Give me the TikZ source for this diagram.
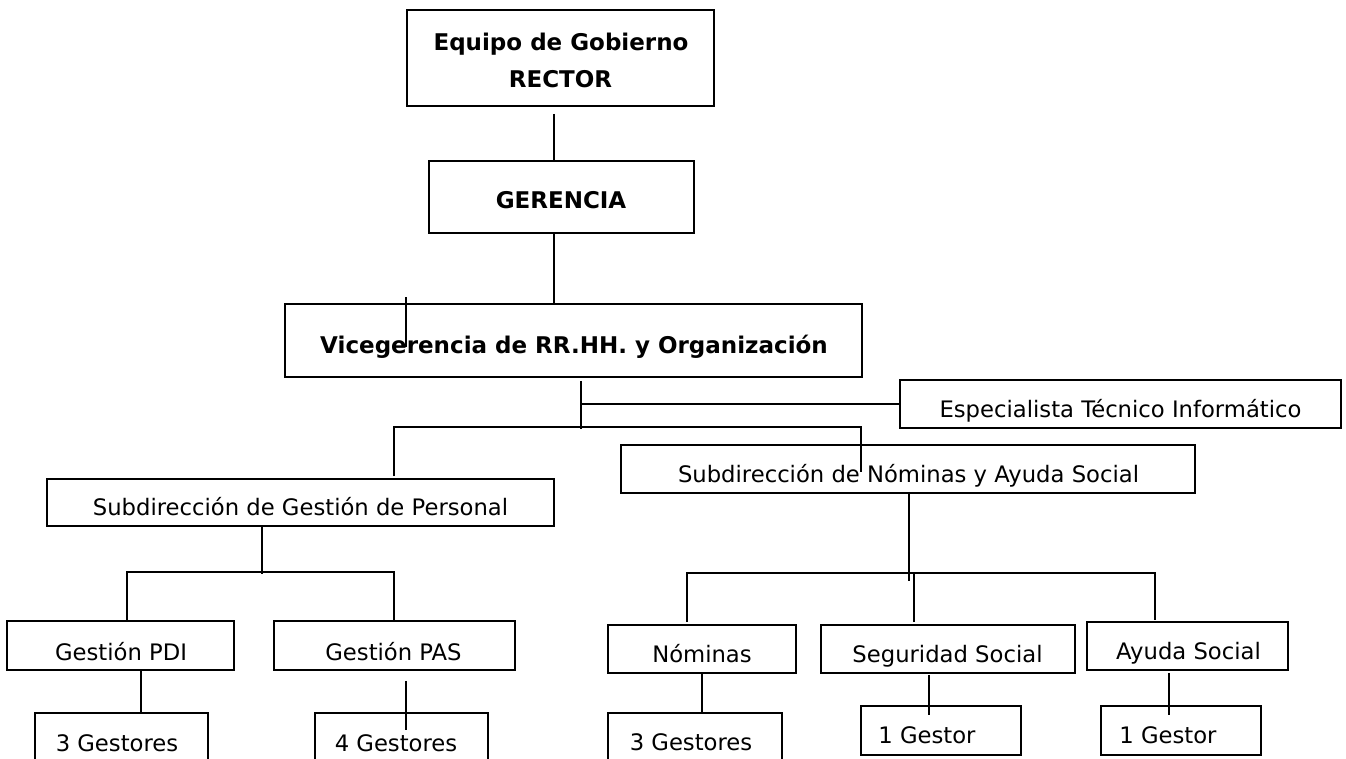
\documentclass[tikz,border=0pt]{standalone}
\usepackage{fontspec}
\setmainfont{DejaVu Sans}
\usetikzlibrary{calc}
\tikzset{
  box/.style={draw=black, line width=1.9pt, inner sep=0pt},
  wire/.style={draw=black, line width=1.9pt},
  lbl/.style={anchor=base, inner sep=0pt, font=\fontsize{22.7}{26}\selectfont},
  blbl/.style={anchor=base, inner sep=0pt, font=\fontsize{23}{27}\selectfont\bfseries},
}
\newcommand\mkbox[5]{\node[box, minimum width={#4-#2}, minimum height={#5-#3}] (#1) at ({(#2+#4)/2},{(#3+#5)/2}) {};}
\begin{document}
\begin{tikzpicture}[x=1pt,y=-1pt]
\useasboundingbox (0,0) rectangle (1346,758);
\clip (0,0) rectangle (1346,758);
\fill[white] (0,0) rectangle (1346,758);

% boxes
\mkbox{rector}{407}{10}{714}{106}
\mkbox{gerencia}{429}{161}{694}{233}
\mkbox{vice}{285}{304}{862}{377}
\mkbox{espec}{900}{380}{1341}{428}
\mkbox{subgest}{47}{479}{554}{526}
\mkbox{subnom}{621}{445}{1195}{493}
\mkbox{pdi}{7}{621}{234}{670}
\mkbox{pas}{274}{621}{515}{670}
\mkbox{gpdi}{35}{713}{208}{780}
\mkbox{gpas}{315}{713}{488}{780}
\mkbox{nom}{608}{625}{796}{673}
\mkbox{seg}{821}{625}{1075}{673}
\mkbox{ayu}{1087}{622}{1288}{670}
\mkbox{gnom}{608}{713}{782}{780}
\mkbox{gseg}{861}{706}{1021}{755}
\mkbox{gayu}{1101}{706}{1261}{755}

% texts
\node[blbl] (rector-t1) at (561,50) {Equipo de Gobierno};
\node[blbl] (rector-t2) at (560.5,87) {RECTOR};
\node[blbl] (gerencia-t) at (561,208) {GERENCIA};
\node[blbl] (vice-t) at (574,353) {Vicegerencia de RR.HH. y Organización};
\node[lbl] (espec-t) at (1120.5,417) {Especialista Técnico Informático};
\node[lbl] (subgest-t) at (300.5,515) {Subdirección de Gestión de Personal};
\node[lbl] (subnom-t) at (908.5,482) {Subdirección de Nóminas y Ayuda Social};
\node[lbl] (pdi-t) at (121,660) {Gestión PDI};
\node[lbl] (pas-t) at (393.5,660) {Gestión PAS};
\node[lbl] (gpdi-t) at (117,751) {3 Gestores};
\node[lbl] (gpas-t) at (396,751) {4 Gestores};
\node[lbl] (nom-t) at (702,662) {Nóminas};
\node[lbl] (seg-t) at (947.5,662) {Seguridad Social};
\node[lbl] (ayu-t) at (1188.5,659) {Ayuda Social};
\node[lbl] (gnom-t) at (691,750) {3 Gestores};
\node[lbl] (gseg-t) at (927,743) {1 Gestor};
\node[lbl] (gayu-t) at (1168,743) {1 Gestor};

% connectors
\draw[wire] ([shift={(-6.5,7)}]rector.south) -- ([shift={(-7.5,1)}]gerencia.north);
\draw[wire] ([shift={(-7.5,0)}]gerencia.south) -- ([shift={(-19.5,1)}]vice.north);
\draw[wire] ([shift={(-167.5,-6)}]vice.north) -- ([shift={(-167.5,44)}]vice.north);
\coordinate (j1) at ([shift={(7.5,51)}]vice.south);
\draw[wire] ([shift={(7.5,3)}]vice.south) -- (j1);
\draw[wire] (j1 |- espec.west) -- (espec.west);
\draw[wire] ([shift={(93.5,-2)}]subgest.north) |- ([shift={(-47,-17)}]subnom.north) -- ([shift={(-47,28)}]subnom.north);
\draw[wire] ([shift={(-38.5,0)}]subgest.south) -- ([shift={(-38.5,47)}]subgest.south);
\draw[wire] ([shift={(6.5,0)}]pdi.north) |- ([shift={(-0.5,-48)}]pas.north) -- ([shift={(-0.5,0)}]pas.north);
\draw[wire] ([shift={(20.5,0)}]pdi.south) -- ([shift={(20.5,41)}]pdi.south);
\draw[wire] ([shift={(11.5,10)}]pas.south) -- ([shift={(11.5,59)}]pas.south);
\draw[wire] ([shift={(1,-2)}]subnom.south) -- ([shift={(1,87)}]subnom.south);
\draw[wire] ([shift={(-15,-2)}]nom.north) |- ([shift={(-32.5,-48)}]ayu.north) -- ([shift={(-32.5,-1)}]ayu.north);
\draw[wire] ([shift={(-34,-2)}]seg.north) -- ([shift={(-34,-51)}]seg.north);
\draw[wire] (nom.south) -- ([shift={(0,40)}]nom.south);
\draw[wire] ([shift={(-19,1)}]seg.south) -- ([shift={(-19,41)}]seg.south);
\draw[wire] ([shift={(-18.5,2)}]ayu.south) -- ([shift={(-18.5,44)}]ayu.south);
\end{tikzpicture}
\end{document}
